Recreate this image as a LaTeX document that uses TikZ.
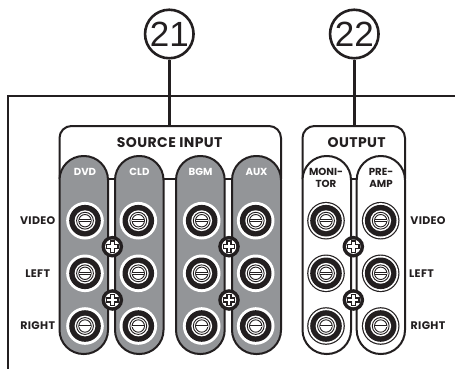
\documentclass[tikz,border=0pt]{standalone}
\usepackage{fontspec}
\setmainfont{Liberation Sans}
\newfontfamily\labelfont[LetterSpace=3]{Poppins}
\newfontfamily\tubefont{Poppins}
\definecolor{panelgrey}{HTML}{939598}
\definecolor{inkblack}{HTML}{231F20}
\tikzset{
    wire/.style = {draw=inkblack, line width=2pt},
    leader/.style = {draw=inkblack, line width=2.8pt},
    callout/.style = {circle, draw=inkblack, line width=2.6pt, fill=white, minimum size=48.5pt, inner sep=0pt, text=inkblack, font=\fontsize{35}{35}\selectfont},
    rowlabel/.style = {text=inkblack, inner sep=0pt, font=\labelfont\bfseries\fontsize{11}{11}\selectfont},
    headlabel/.style = {text=inkblack, inner sep=0pt, font=\labelfont\bfseries\fontsize{14}{14}\selectfont},
    tubelabel/.style = {inner sep=0pt, font=\tubefont\bfseries\fontsize{10.2}{10.8}\selectfont}
}
% one socket at (#1,#2), outer ring colour #3
\newcommand{\socket}[3]{
    \fill[#3] (#1,#2) circle (18.8pt);
    \fill[white] (#1,#2) circle (17.6pt);
    \fill[inkblack] (#1,#2) circle (15.8pt);
    \fill[white] (#1,#2) circle (10.4pt);
    \draw[inkblack, line width=.9pt] (#1,#2) circle (8.4pt);
    \draw[inkblack, line width=.9pt] (#1,#2) circle (6.2pt);
    \fill[inkblack] (#1-6,#2-1.3) rectangle (#1+6,#2+1.3);
    \fill[white] (#1-6,#2-.5) rectangle (#1+6,#2+.5);
}
% one cross-head screw at (#1,#2)
\newcommand{\screw}[2]{
    \fill[inkblack] (#1,#2) circle (10.8pt);
    \fill[white] (#1,#2) circle (7.2pt);
    \fill[inkblack] (#1-6.4,#2-2.7) rectangle (#1+6.4,#2+2.7);
    \fill[inkblack] (#1-2.7,#2-6.4) rectangle (#1+2.7,#2+6.4);
    \fill[white] (#1-5,#2-1.3) rectangle (#1+5,#2+1.3);
    \fill[white] (#1-1.3,#2-5) rectangle (#1+1.3,#2+5);
}
\begin{document}
\begin{tikzpicture}[x=1pt,y=-1pt]
    \useasboundingbox (0,0) rectangle (455,369);
    \fill[white] (0,0) rectangle (455,369);

    % rear panel edge
    \draw[wire] (7.5,369) -- (7.5,96) -- (455,96);

    % callouts and their leaders
    \node[callout] (num21) at (169.3,34) {21};
    \node[callout] (num22) at (354.3,34) {22};
    \coordinate (srctop) at (169.3,126);
    \coordinate (outtop) at (354.3,126);
    \draw[leader] (num21) -- (srctop);
    \draw[leader] (num22) -- (outtop);

    % group outlines
    \draw[wire, rounded corners=12pt] (59.5,179) -- (59.5,126) -- (281,126) -- (281,179);
    \draw[wire, rounded corners=12pt] (302.5,179) -- (302.5,126) -- (405,126) -- (405,179);
    \draw[wire] (59.5,179) -- (281,179);
    \draw[wire] (302.5,179) -- (405,179);
    \node[headlabel] (srchead) at (169.7,142.7) {SOURCE INPUT};
    \node[headlabel] (outhead) at (356.7,142.7) {OUTPUT};

    % grey tubes
    \foreach \xa/\xb in {59.5/108, 115/163.5, 176/224.7, 232/281}
        \draw[wire, fill=panelgrey, rounded corners=24pt] (\xa,156) rectangle (\xb,354);
    % white tubes
    \foreach \xa/\xb in {302.5/351, 356.7/405}
        \draw[wire, fill=white, rounded corners=24pt] (\xa,156) rectangle (\xb,354);

    % sockets
    \foreach \y in {220.7,273.3,326} {
        \foreach \x in {85,138.3,201.7,255.7}
            \socket{\x}{\y}{white};
        \foreach \x in {326,380.7}
            \socket{\x}{\y}{inkblack};
    }

    % screws
    \foreach \x in {112.3,229,353.3} {
        \screw{\x}{246.7}
        \screw{\x}{300}
    }

    % tube labels
    \node[tubelabel, text=white] (dvd) at (85,171.7) {DVD};
    \node[tubelabel, text=white] (cld) at (139.5,171.7) {CLD};
    \node[tubelabel, text=white] (bgm) at (200.5,171.7) {BGM};
    \node[tubelabel, text=white] (aux) at (256.5,171.7) {AUX};
    \node[tubelabel, text=inkblack] (moni) at (326,171.7) {MONI-};
    \node[tubelabel, text=inkblack] (tor) at (326,184.3) {TOR};
    \node[tubelabel, text=inkblack] (pre) at (381,171.7) {PRE-};
    \node[tubelabel, text=inkblack] (amp) at (381,184.3) {AMP};

    % row labels
    \foreach \name/\txt/\y in {a/VIDEO/220.7, b/LEFT/273.3, c/RIGHT/326} {
        \node[rowlabel] (lft\name) at (37.7,\y) {\txt};
    }
    \node[rowlabel] (rgta) at (428,220.7) {VIDEO};
    \node[rowlabel] (rgtb) at (421.5,273.3) {LEFT};
    \node[rowlabel] (rgtc) at (428,326) {RIGHT};
\end{tikzpicture}
\end{document}
